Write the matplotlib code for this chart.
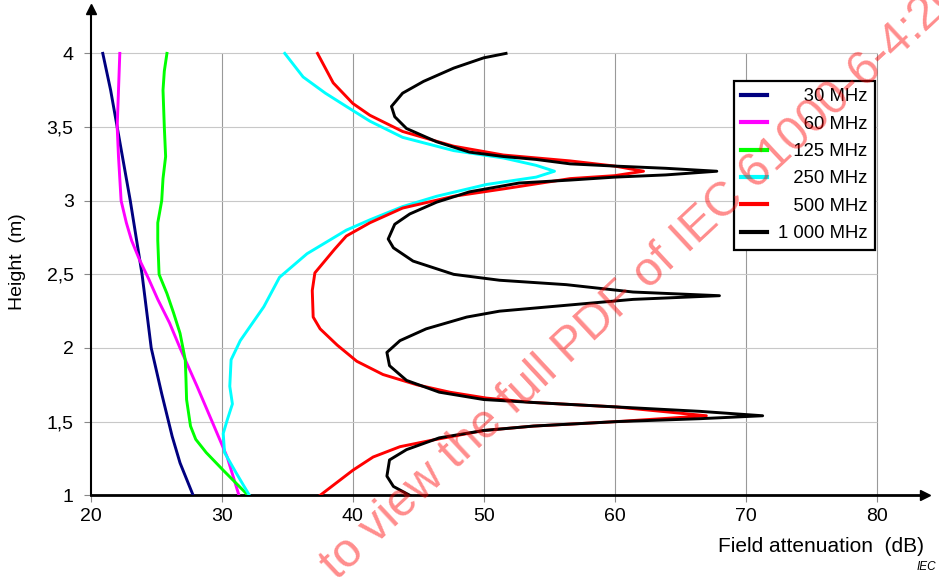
import matplotlib
matplotlib.use("Agg")
import matplotlib.pyplot as plt

plt.rcParams['font.family'] = ['Liberation Sans', 'DejaVu Sans']

# field attenuation (dB) vs height (m)
h_30 = [4.0, 3.75, 3.5, 3.25, 3.0, 2.5, 2.0, 1.69, 1.40, 1.22, 1.0]
att_30 = [20.9, 21.5, 22.0, 22.5, 23.0, 23.9, 24.6, 25.4, 26.2, 26.8, 27.8]

h_60 = [4.0, 3.75, 3.5, 3.3, 3.0, 2.85, 2.73, 2.6, 2.47, 2.33, 2.17, 2.0, 1.74, 1.49, 1.26, 1.0]
att_60 = [22.2, 22.1, 22.0, 22.1, 22.3, 22.7, 23.1, 23.7, 24.4, 25.1, 26.0, 26.8, 28.1, 29.3, 30.4, 31.3]

h_125 = [4.0, 3.88, 3.75, 3.5, 3.3, 3.15, 3.0, 2.85, 2.73, 2.5, 2.37, 2.24, 2.10,
         1.92, 1.80, 1.65, 1.47, 1.38, 1.29, 1.17, 1.0]
att_125 = [25.8, 25.6, 25.5, 25.6, 25.7, 25.5, 25.4, 25.1, 25.1, 25.2, 25.8, 26.3, 26.8,
           27.2, 27.25, 27.3, 27.6, 28.0, 28.8, 30.1, 32.0]

h_250 = [4.0, 3.84, 3.73, 3.64, 3.54, 3.43, 3.34, 3.29, 3.24, 3.20, 3.16, 3.11, 3.03,
         2.96, 2.87, 2.80, 2.64, 2.48, 2.28, 2.05, 1.92, 1.74, 1.62, 1.51, 1.42, 1.29,
         1.15, 1.0]
att_250 = [34.8, 36.2, 37.9, 39.5, 41.3, 43.8, 47.7, 51.5, 54.0, 55.4, 54.0, 50.2, 46.4,
           43.8, 41.3, 39.5, 36.5, 34.4, 33.2, 31.4, 30.7, 30.6, 30.8, 30.4, 30.1, 30.2,
           31.1, 32.1]

h_500 = [4.0, 3.80, 3.66, 3.58, 3.47, 3.37, 3.31, 3.27, 3.235, 3.20, 3.17, 3.15, 3.08,
         3.03, 2.95, 2.85, 2.76, 2.67, 2.51, 2.39, 2.21, 2.13, 2.02, 1.91, 1.82, 1.75,
         1.70, 1.66, 1.63, 1.60, 1.54, 1.50, 1.47, 1.44, 1.375, 1.33, 1.26, 1.17, 1.0]
att_500 = [37.3, 38.5, 40.0, 41.3, 43.8, 47.7, 51.5, 56.6, 60.0, 62.2, 60.0, 56.6, 51.5,
           47.7, 43.8, 41.3, 39.5, 38.6, 37.1, 36.9, 36.97, 37.5, 38.8, 40.3, 42.3, 44.9,
           47.4, 50.2, 53.8, 60.1, 67.0, 60.1, 53.8, 50.0, 46.1, 43.6, 41.55, 40.0, 37.5]

h_1000 = [4.0, 3.97, 3.90, 3.81, 3.73, 3.64, 3.57, 3.49, 3.40, 3.33, 3.30, 3.28, 3.25,
          3.235, 3.22, 3.20, 3.175, 3.16, 3.14, 3.12, 3.06, 2.99, 2.91, 2.84, 2.74, 2.68,
          2.59, 2.50, 2.46, 2.43, 2.38, 2.355, 2.33, 2.29, 2.25, 2.21, 2.13, 2.05, 1.97,
          1.88, 1.78, 1.70, 1.65, 1.63, 1.60, 1.57, 1.54, 1.52, 1.50, 1.47, 1.44, 1.39,
          1.31, 1.24, 1.13, 1.06, 1.0]
att_1000 = [51.7, 50.0, 47.7, 45.4, 43.8, 42.95, 43.2, 44.1, 46.4, 48.9, 51.5, 54.0, 56.6,
            60.0, 63.9, 67.8, 63.9, 60.0, 56.6, 52.7, 48.9, 46.4, 44.35, 43.2, 42.7, 43.1,
            44.6, 47.7, 51.2, 56.3, 61.4, 68.0, 61.4, 56.3, 51.2, 48.7, 45.6, 43.6, 42.6,
            42.8, 44.1, 46.6, 50.0, 53.8, 60.1, 66.5, 71.3, 66.5, 60.1, 53.8, 50.0, 46.6,
            44.1, 42.8, 42.6, 43.1, 44.35]

labels = ['     30 MHz', '     60 MHz', '   125 MHz', '   250 MHz', '   500 MHz', '1 000 MHz']
colors = ['#000080', '#ff00ff', '#00ff00', '#00ffff', '#ff0000', '#000000']
xticks = [20, 30, 40, 50, 60, 70, 80]
yticks = [1, 1.5, 2, 2.5, 3, 3.5, 4]
ytick_labels = ['1', '1,5', '2', '2,5', '3', '3,5', '4']

fig = plt.figure(figsize=(9.39, 5.78), dpi=100)
ax = fig.add_axes([91/939, (578-495.3)/578, (925-91)/939, (495.3-9.2)/578])

# grid inside the [20,80] x [1,4] box only
ax.vlines(xticks[1:], 1, 4, color='#999999', lw=0.8, zorder=1)
ax.hlines(yticks[1:], 20, 80, color='#c8c8c8', lw=0.8, zorder=1)

series = [(att_30, h_30), (att_60, h_60), (att_125, h_125),
          (att_250, h_250), (att_500, h_500), (att_1000, h_1000)]
for (x, y), c, lab in zip(series, colors, labels):
    ax.plot(x, y, color=c, lw=2.1, label=lab, zorder=3, solid_joinstyle='round')

ax.set_xlim(20, 83.7)
ax.set_ylim(1, 4.3)
ax.set_xticks(xticks)
ax.set_yticks(yticks)
ax.set_yticklabels(ytick_labels)
ax.tick_params(axis='both', direction='out', length=5, width=0.8, color='#888888',
               labelsize=14)
ax.tick_params(axis='y', pad=7.5)
ax.tick_params(axis='x', pad=4.5)

for s in ['top', 'right']:
    ax.spines[s].set_visible(False)
ax.spines['left'].set_linewidth(1.5)
ax.spines['bottom'].set_linewidth(2)
ax.plot(1, 0, '>k', ms=7, transform=ax.transAxes, clip_on=False)
ax.plot(0, 1, '^k', ms=7, transform=ax.transAxes, clip_on=False)

leg = ax.legend(loc='upper right', bbox_to_anchor=(875/939, 1-81/578),
                bbox_transform=fig.transFigure, borderaxespad=0, fontsize=13.3,
                handlelength=1.4, handletextpad=0.6, labelspacing=0.56,
                borderpad=0.4, fancybox=False, framealpha=1, edgecolor='black')
leg.get_frame().set_linewidth(1.6)
for line in leg.get_lines():
    line.set_linewidth(3)

fig.text(18/939, 1-262/578, 'Height  (m)', rotation=90, ha='center', va='center',
         fontsize=14)
fig.text(924/939, 1-546/578, 'Field attenuation  (dB)', ha='right', va='center',
         fontsize=15)
fig.text(936/939, 1-567/578, 'IEC', ha='right', va='center', fontsize=8.5,
         style='italic')

fig.text(328/939, 1-572/578, 'to view the full PDF of IEC 61000-6-4:2006', rotation=43,
         rotation_mode='anchor', ha='left', va='center', fontsize=34.5, color='red',
         alpha=0.45, zorder=10)

fig.savefig('out.png', dpi=100)
